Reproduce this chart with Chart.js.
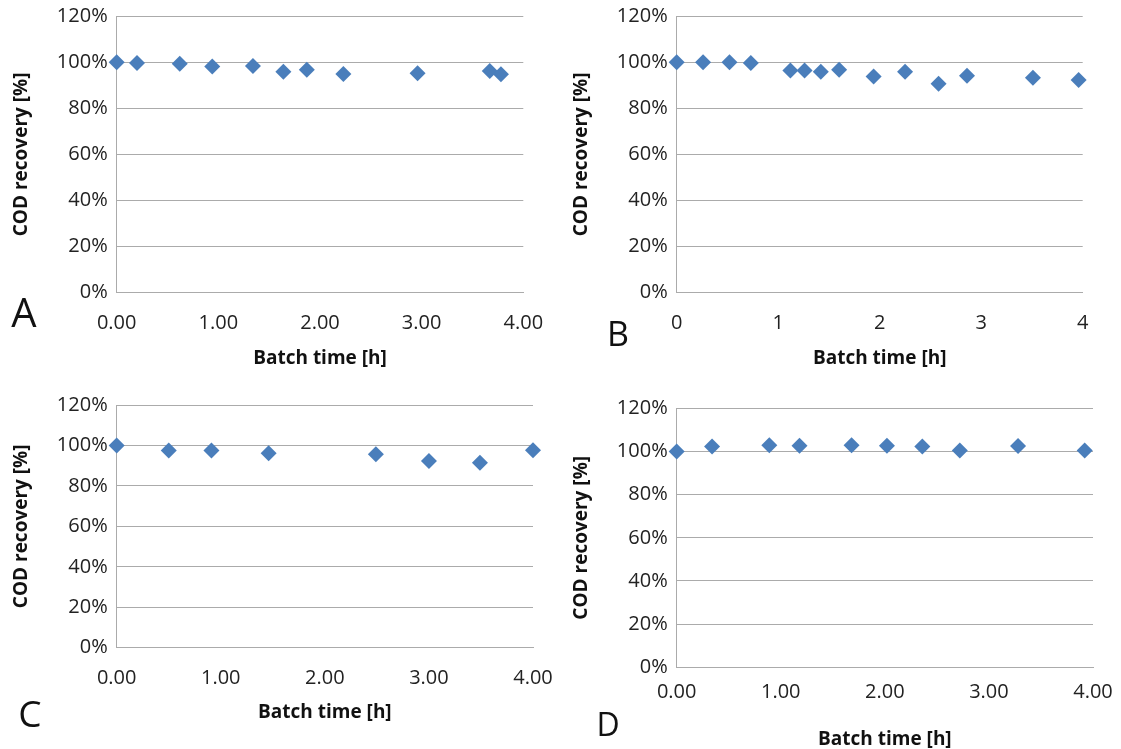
<!DOCTYPE html>
<html lang="en">
<head>
  <meta charset="UTF-8">
  <title>COD recovery</title>
  <script src="https://cdn.jsdelivr.net/npm/chart.js"></script>
  <style>
    body {
      margin: 0;
      background: #fff;
      width: 1121px;
      height: 749px;
      position: relative;
      overflow: hidden;
      font-family: "Open Sans", sans-serif;
    }
    .panel {
      position: absolute;
    }
    .letter {
      position: absolute;
      color: #111;
      line-height: 1;
      transform: translate(-50%, -50%);
    }
  </style>
</head>
<body>
  <div class="panel" style="left:0;top:0"><canvas id="chartA" width="560" height="380"></canvas></div>
  <div class="panel" style="left:560px;top:0"><canvas id="chartB" width="561" height="380"></canvas></div>
  <div class="panel" style="left:0;top:380px"><canvas id="chartC" width="560" height="369"></canvas></div>
  <div class="panel" style="left:560px;top:380px"><canvas id="chartD" width="561" height="369"></canvas></div>

  <div class="letter" style="left:24px;top:312px;font-size:40px">A</div>
  <div class="letter" style="left:618px;top:333px;font-size:34px">B</div>
  <div class="letter" style="left:30px;top:712px;font-size:37px">C</div>
  <div class="letter" style="left:608px;top:724px;font-size:32px">D</div>

  <script>
    // batch time [h] and COD recovery [%] per panel
    const timeA = [0, 0.20, 0.62, 0.94, 1.34, 1.64, 1.87, 2.23, 2.96, 3.67, 3.78];
    const recoveryA = [100, 99.6, 99.3, 98.1, 98.4, 95.9, 96.7, 94.9, 95.2, 96.2, 94.8];

    const timeB = [0, 0.26, 0.52, 0.73, 1.12, 1.26, 1.42, 1.60, 1.94, 2.25, 2.58, 2.86, 3.51, 3.96];
    const recoveryB = [100, 100, 100, 99.6, 96.4, 96.4, 95.9, 96.7, 93.8, 95.9, 90.6, 94.1, 93.3, 92.3];

    const timeC = [0, 0.50, 0.91, 1.46, 2.49, 3.00, 3.49, 4.00];
    const recoveryC = [100, 97.5, 97.5, 96.2, 95.6, 92.3, 91.4, 97.6];

    const timeD = [0, 0.34, 0.89, 1.18, 1.68, 2.02, 2.36, 2.72, 3.28, 3.92];
    const recoveryD = [100, 102.3, 102.9, 102.6, 102.9, 102.6, 102.3, 100.4, 102.5, 100.4];

    const yTicks = [0, 20, 40, 60, 80, 100, 120];

    const gridColor = "#ababab";
    const markerColor = "#4a7ebb";

    function noPad(s) {
      s.paddingTop = 0;
      s.paddingBottom = 0;
      s.paddingLeft = 0;
      s.paddingRight = 0;
    }

    function makeChart(id, times, values, opts) {
      const points = times.map((t, i) => ({ x: t, y: values[i] }));
      new Chart(document.getElementById(id), {
        type: "scatter",
        data: {
          datasets: [{
            data: points,
            pointStyle: "rectRot",
            pointRadius: 8,
            pointHoverRadius: 8,
            backgroundColor: markerColor,
            borderColor: markerColor,
            borderWidth: 0,
            clip: false
          }]
        },
        options: {
          responsive: false,
          animation: false,
          events: [],
          layout: {
            padding: { left: 0, top: opts.top, right: opts.right, bottom: 0 }
          },
          plugins: {
            legend: { display: false },
            tooltip: { enabled: false }
          },
          scales: {
            x: {
              type: "linear",
              min: 0,
              max: 4,
              afterFit: s => { s.height = opts.xHeight; noPad(s); },
              grid: { display: false, drawTicks: false },
              border: { display: true, color: gridColor, width: 1 },
              ticks: {
                stepSize: 1,
                padding: opts.xTickPad,
                color: "#222",
                font: { family: "Open Sans", size: 20 },
                callback: v => opts.intTicks ? String(v) : v.toFixed(2)
              },
              title: {
                display: true,
                text: "Batch time [h]",
                color: "#111",
                font: { family: "Open Sans", size: 19, weight: "bold", lineHeight: 1 },
                padding: { top: 0, bottom: opts.xTitlePad }
              }
            },
            y: {
              min: 0,
              max: 120,
              afterFit: s => { s.width = 116.7; noPad(s); },
              afterBuildTicks: s => { s.ticks = yTicks.map(v => ({ value: v })); },
              grid: { color: gridColor, lineWidth: 1, drawTicks: false },
              border: { display: true, color: gridColor, width: 1 },
              ticks: {
                padding: 9,
                color: "#222",
                font: { family: "Open Sans", size: 20 },
                callback: v => v + "%"
              },
              title: {
                display: true,
                text: "COD recovery [%]",
                color: "#111",
                font: { family: "Open Sans", size: 19, weight: "bold", lineHeight: 1 },
                padding: { top: 12.5, bottom: 0 }
              }
            }
          }
        }
      });
    }

    makeChart("chartA", timeA, recoveryA, { top: 16.1, right: 36.7, xHeight: 87.3, xTickPad: 18.6, xTitlePad: 12.2, intTicks: false });
    makeChart("chartB", timeB, recoveryB, { top: 16.1, right: 38.3, xHeight: 87.3, xTickPad: 18.6, xTitlePad: 12.2, intTicks: true });
    makeChart("chartC", timeC, recoveryC, { top: 25, right: 27, xHeight: 101.3, xTickPad: 18.6, xTitlePad: 26.5, intTicks: false });
    makeChart("chartD", timeD, recoveryD, { top: 28.3, right: 28, xHeight: 81.7, xTickPad: 13.4, xTitlePad: 0, intTicks: false });
  </script>
</body>
</html>
